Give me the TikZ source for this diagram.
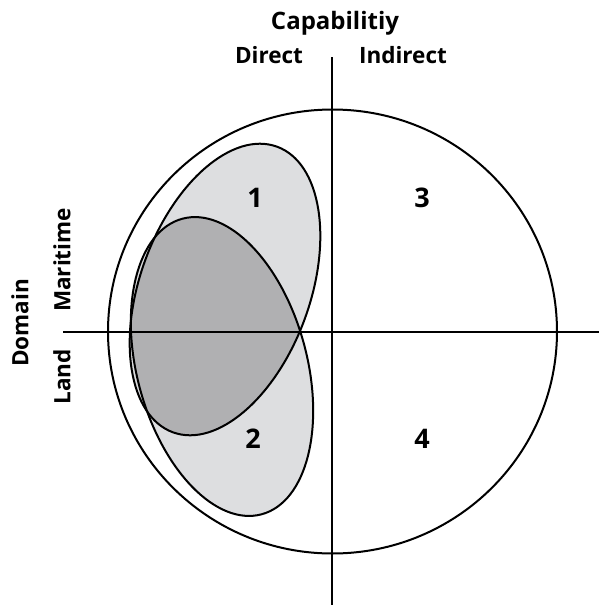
\documentclass[tikz,border=0pt]{standalone}
\usepackage{fontspec}
\setmainfont{Open Sans}
\definecolor{lightg}{RGB}{221,222,224}
\definecolor{darkg}{RGB}{176,176,178}
\begin{document}
\begin{tikzpicture}[x=1pt,y=1pt,
  lbl/.style={font=\bfseries\fontsize{22.5}{26}\selectfont, inner sep=0pt},
  num/.style={font=\bfseries\fontsize{27}{31}\selectfont, inner sep=0pt},
  outline/.style={line width=2pt, draw=black},
  eone/.style={rotate around={70:(225,-289.5)}},
  etwo/.style={rotate around={-75:(222,-366.5)}},
]
\useasboundingbox (0,0) rectangle (599,-606);
\fill[white] (0,0) rectangle (599,-606);
% light fills
\fill[lightg, eone] (225,-289.5) ellipse [x radius=152pt, y radius=85pt];
\fill[lightg, etwo] (222,-366.5) ellipse [x radius=153pt, y radius=85pt];
% overlap
\begin{scope}
  \clip[eone] (225,-289.5) ellipse [x radius=152pt, y radius=85pt];
  \fill[darkg, etwo] (222,-366.5) ellipse [x radius=153pt, y radius=85pt];
\end{scope}
% big circle
\draw[outline] (332.5,-331.5) ellipse [x radius=224.5pt, y radius=222pt];
% axes
\coordinate (vtop) at (332,-57);
\coordinate (vbot) at (332,-605);
\coordinate (hleft) at (63,-332);
\coordinate (hright) at (599,-332);
\draw[outline] (vtop) -- (vbot);
\draw[outline] (hleft) -- (hright);
% ellipse outlines
\draw[outline, eone] (225,-289.5) ellipse [x radius=152pt, y radius=85pt];
\draw[outline, etwo] (222,-366.5) ellipse [x radius=153pt, y radius=85pt];
% labels
\node[lbl, anchor=base, font=\bfseries\fontsize{24}{28}\selectfont] (cap) at (335,-29) {Capabilitiy};
\node[lbl, anchor=base] (dir) at (269,-63.5) {Direct};
\node[lbl, anchor=base] (ind) at (403,-63.5) {Indirect};
\node[lbl, rotate=90] (dom) at (20,-323) {Domain};
\node[lbl, rotate=90] (mar) at (62,-260) {Maritime};
\node[lbl, rotate=90] (land) at (62,-377) {Land};
\node[num] (n1) at (255,-198) {1};
\node[num] (n3) at (422,-198) {3};
\node[num] (n2) at (253,-439) {2};
\node[num] (n4) at (422,-439) {4};
\end{tikzpicture}
\end{document}
